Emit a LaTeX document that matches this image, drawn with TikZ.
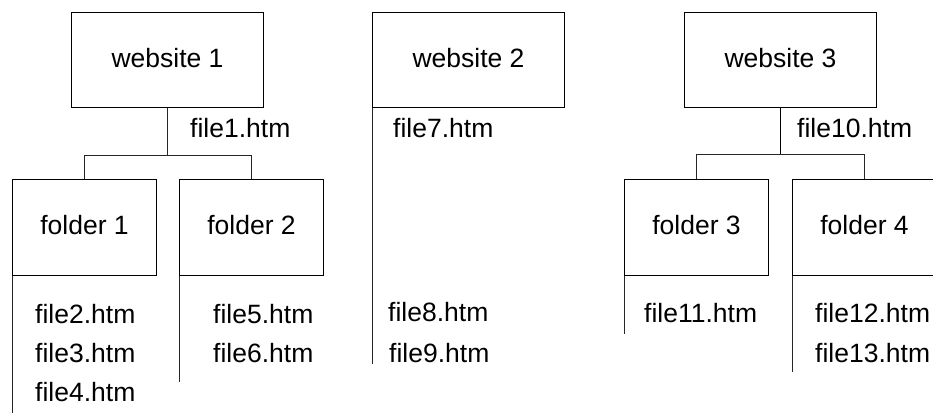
\documentclass[tikz,border=0pt]{standalone}
\usepackage{fontspec}
\setmainfont{Liberation Sans}
\begin{document}
\begin{tikzpicture}[x=1pt,y=-1pt,
  box/.style={draw, line width=1pt, minimum width=192pt, minimum height=95pt, inner sep=0pt, anchor=north west},
  fbox/.style={draw, line width=1pt, minimum width=144pt, minimum height=96pt, inner sep=0pt, anchor=north west},
  lbl/.style={font=\fontsize{26.5}{30}\selectfont},
  file/.style={lbl, anchor=base west, inner sep=0pt},
  link/.style={line width=1pt, draw=black!85}]
\useasboundingbox (0,0) rectangle (933,414);
\clip (0,0) rectangle (933,414);

% site 1
\node[box] (w1) at (71,12) {};
\node[lbl, anchor=base] (w1t) at (w1.center |- 0,68) {website 1};
\node[fbox] (f1) at (12,179) {};
\node[fbox] (f2) at (179,179) {};
\node[lbl, anchor=base] (f1t) at (f1.center |- 0,234) {folder 1};
\node[lbl, anchor=base] (f2t) at (f2.center |- 0,234) {folder 2};
\coordinate (j1) at (w1.south |- 0,156);
\draw[link] (w1.south) -- (j1);
\draw[link] (f1.north) -- (f1.north |- j1) -- (f2.north |- j1) -- (f2.north);
\coordinate (e1) at (f1.south west |- 0,413);
\coordinate (e2) at (f2.south west |- 0,382);
\draw[link] (f1.south west) -- (e1);
\draw[link] (f2.south west) -- (e2);
\node[file] (h1) at (190,138) {file1.htm};
\node[file] (h2) at (35,323) {file2.htm};
\node[file] (h3) at (35,362) {file3.htm};
\node[file] (h4) at (35,401) {file4.htm};
\node[file] (h5) at (213,323) {file5.htm};
\node[file] (h6) at (213,362) {file6.htm};

% site 2
\node[box] (w2) at (372,12) {};
\node[lbl, anchor=base] (w2t) at (w2.center |- 0,68) {website 2};
\coordinate (e3) at (w2.south west |- 0,364);
\draw[link] (w2.south west) -- (e3);
\node[file] (h7) at (393,138) {file7.htm};
\node[file] (h8) at (388,321) {file8.htm};
\node[file] (h9) at (389,362) {file9.htm};

% site 3
\node[box] (w3) at (684,12) {};
\node[lbl, anchor=base] (w3t) at (w3.center |- 0,68) {website 3};
\node[fbox] (f3) at (624,179) {};
\node[fbox] (f4) at (792,179) {};
\node[lbl, anchor=base] (f3t) at (f3.center |- 0,234) {folder 3};
\node[lbl, anchor=base] (f4t) at (f4.center |- 0,234) {folder 4};
\coordinate (j3) at (w3.south |- 0,155);
\draw[line width=1.4pt] (w3.south) -- (j3);
\draw[link] (f3.north) -- (f3.north |- j3) -- (f4.north |- j3) -- (f4.north);
\coordinate (e4) at (f3.south west |- 0,334);
\coordinate (e5) at (f4.south west |- 0,372);
\draw[link] (f3.south west) -- (e4);
\draw[link] (f4.south west) -- (e5);
\node[file] (h10) at (797,138) {file10.htm};
\node[file] (h11) at (644,322) {file11.htm};
\node[file] (h12) at (815,322) {file12.htm};
\node[file] (h13) at (815,362) {file13.htm};
\end{tikzpicture}
\end{document}
